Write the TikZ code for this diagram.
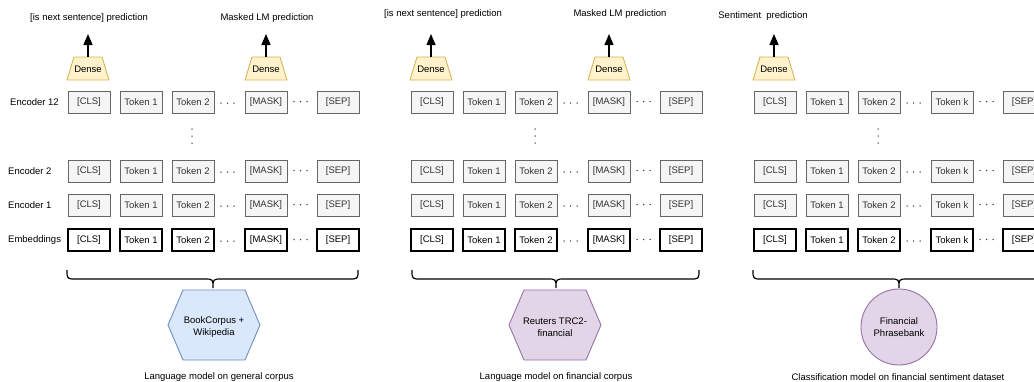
\documentclass[tikz,border=0pt]{standalone}
\usepackage{fontspec}
\setmainfont{Liberation Sans}
\usetikzlibrary{arrows.meta,shapes.geometric}
\definecolor{encfill}{HTML}{F5F5F5}
\definecolor{encdraw}{HTML}{666666}
\definecolor{enctext}{HTML}{333333}
\definecolor{densefill}{HTML}{FFF2CC}
\definecolor{densedraw}{HTML}{D6B656}
\definecolor{bluefill}{HTML}{DAE8FC}
\definecolor{bluedraw}{HTML}{6C8EBF}
\definecolor{purpfill}{HTML}{E1D5E7}
\definecolor{purpdraw}{HTML}{9673A6}
\definecolor{dotcol}{HTML}{333333}
\tikzset{
  base/.style={font=\fontsize{9.5}{11.5}\selectfont, inner sep=0pt},
  encbox/.style={base, draw=encdraw, fill=encfill, text=enctext, line width=0.9pt, minimum width=42pt, minimum height=22pt},
  embbox/.style={base, draw=black, fill=white, line width=1.1pt, minimum width=42pt, minimum height=22pt},
  rowlabel/.style={base, anchor=west},
  toplabel/.style={base},
  denseshape/.style={draw=densedraw, fill=densefill, line width=0.9pt, line join=round},
  densetext/.style={base},
  uparrow/.style={line width=1.3pt, -{Triangle[width=9pt,length=11pt]}},
  hexblue/.style={draw=bluedraw, fill=bluefill, line width=0.9pt},
  hexpurp/.style={draw=purpdraw, fill=purpfill, line width=0.9pt},
  circpurp/.style={base, circle, draw=purpdraw, fill=purpfill, line width=0.9pt, minimum size=76pt, align=center},
  centertext/.style={base, align=center},
  bracepath/.style={line width=1.2pt},
  dotmark/.style={fill=dotcol, draw=none}
}
\begin{document}
\begin{tikzpicture}[x=1pt,y=-1pt]
\clip (0,0) rectangle (1034,381);
\fill[white] (0,0) rectangle (1034,381);

% row labels
\node[rowlabel] (l12) at (10,102) {Encoder 12};
\node[rowlabel] (l2) at (8,171) {Encoder 2};
\node[rowlabel] (l1) at (8,205) {Encoder 1};
\node[rowlabel] (lemb) at (8,240) {Embeddings};

% token grids
\foreach \p/\ox/\tk in {1/0/{[MASK]}, 2/343/{[MASK]}, 3/686/{Token k}}{
  \foreach \r/\y/\sty in {a/102/encbox, b/171/encbox, c/205/encbox, d/240/embbox}{
    \node[\sty] (p\p\r1) at (\ox+89,\y) {[CLS]};
    \node[\sty] (p\p\r2) at (\ox+141,\y) {Token 1};
    \node[\sty] (p\p\r3) at (\ox+193,\y) {Token 2};
    \node[\sty] (p\p\r4) at (\ox+266,\y) {\tk};
    \node[\sty] (p\p\r5) at (\ox+338,\y) {[SEP]};
    \foreach \dx in {221,227.5,234}{\fill[dotmark] (\ox+\dx,\y+1) circle (0.75pt);}
    \foreach \dx in {294,300.5,307}{\fill[dotmark] (\ox+\dx,\y-0.5) circle (0.75pt);}
  }
  \foreach \dy in {129,136,143}{\fill[dotmark] (\ox+192,\dy) circle (0.75pt);}
  % dense on CLS
  \filldraw[denseshape] (\ox+67,80) -- (\ox+74,57) -- (\ox+102,57) -- (\ox+109,80) -- cycle;
  \node[densetext] (d\p c) at (\ox+88,69) {Dense};
  \coordinate (d\p ctop) at (\ox+88,57);
  \coordinate (t\p c) at (\ox+88,34);
  \draw[uparrow] (d\p ctop) -- (t\p c);
}
% dense on MASK (panels 1,2)
\foreach \p/\ox in {1/0, 2/343}{
  \filldraw[denseshape] (\ox+245,80) -- (\ox+252,57) -- (\ox+280,57) -- (\ox+287,80) -- cycle;
  \node[densetext] (d\p m) at (\ox+266,69) {Dense};
  \coordinate (d\p mtop) at (\ox+266,57);
  \coordinate (t\p m) at (\ox+266,34);
  \draw[uparrow] (d\p mtop) -- (t\p m);
}

% top labels
\node[toplabel] (n1) at (89,18) {[is next sentence] prediction};
\node[toplabel] (m1) at (267,18) {Masked LM prediction};
\node[toplabel] (n2) at (443,14.5) {[is next sentence] prediction};
\node[toplabel] (m2) at (620,14.5) {Masked LM prediction};
\node[toplabel] (s3) at (763,16) {Sentiment\ \ prediction};

% braces
\foreach \L/\M/\R in {67/213/358, 412/556/699, 753/899/1045}{
  \draw[bracepath] (\L,270) .. controls (\L,279) .. (\L+9,279) -- (\M-9,279)
    .. controls (\M,279) .. (\M,288) .. controls (\M,279) .. (\M+9,279)
    -- (\R-9,279) .. controls (\R,279) .. (\R,270);
}

% datasets
\draw[hexblue] (168,325) -- (183,290) -- (245,290) -- (260,325) -- (245,360) -- (183,360) -- cycle;
\node[centertext] (bc) at (214,327) {BookCorpus +\\Wikipedia};
\draw[hexpurp] (509,325) -- (524,290) -- (586,290) -- (601,325) -- (586,360) -- (524,360) -- cycle;
\node[centertext] (rt) at (555,327) {Reuters TRC2-\\financial};
\node[circpurp] (fp) at (899,327) {Financial\\Phrasebank};

% captions
\node[toplabel] (c1) at (219,377) {Language model on general corpus};
\node[toplabel] (c2) at (556,377) {Language model on financial corpus};
\node[toplabel] (c3) at (898,377) {Classification model on financial sentiment dataset};
\end{tikzpicture}
\end{document}
